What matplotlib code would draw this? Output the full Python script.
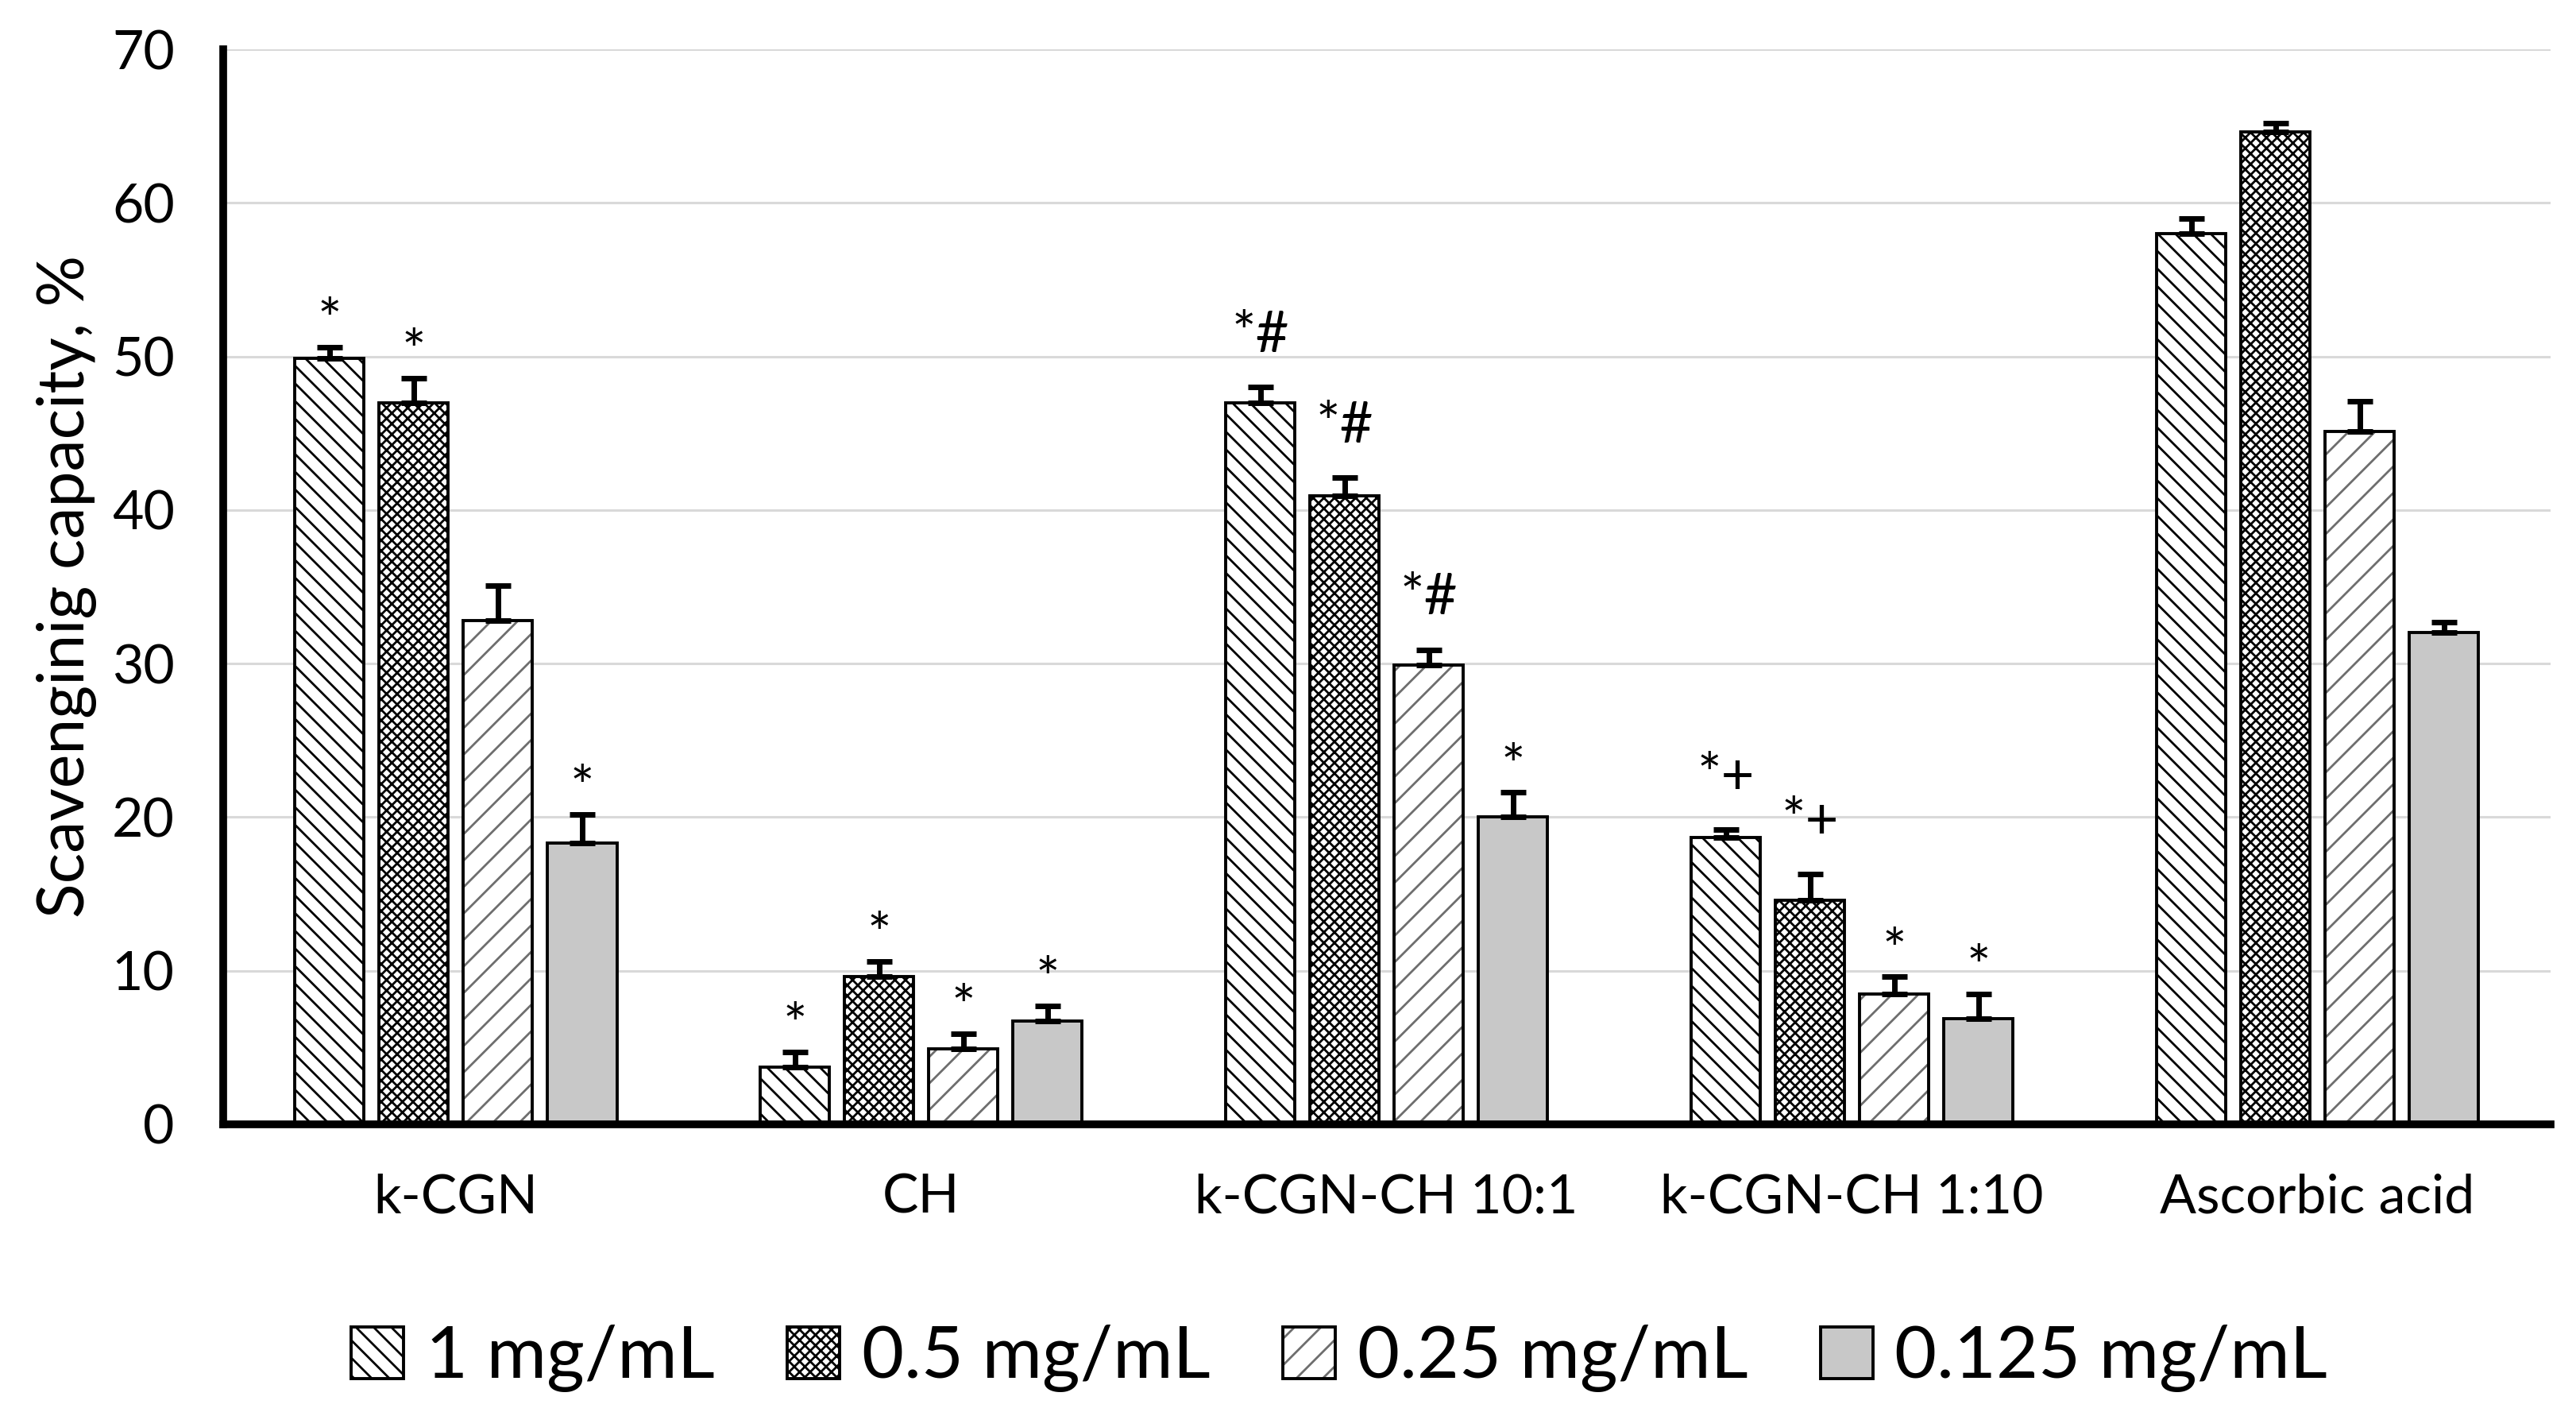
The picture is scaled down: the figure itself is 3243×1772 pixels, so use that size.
import numpy as np
import matplotlib.pyplot as plt

# ==========================
# Datos
# ==========================
groups = ["k-CGN", "CH", "k-CGN-CH 10:1", "k-CGN-CH 1:10", "Ascorbic acid"]
series = ["1 mg/mL", "0.5 mg/mL", "0.25 mg/mL", "0.125 mg/mL"]

c1 = [49.9, 3.7, 47.0, 18.7, 58.0]
c05 = [47.0, 9.6, 40.9, 14.6, 64.6]
c025 = [32.8, 4.9, 29.9, 8.5, 45.1]
c0125 = [18.3, 6.7, 20.0, 6.9, 32.0]

e1 = [0.7, 1.0, 1.0, 0.5, 1.0]
e05 = [1.6, 1.0, 1.2, 1.7, 0.6]
e025 = [2.3, 1.0, 1.0, 1.1, 2.0]
e0125 = [1.9, 1.0, 1.6, 1.6, 0.7]

marks1 = ["*", "*", "*#", "*+", ""]
marks05 = ["*", "*", "*#", "*+", ""]
marks025 = ["", "*", "*#", "*", ""]
marks0125 = ["*", "*", "*", "*", ""]

values = [c1, c05, c025, c0125]
errors = [e1, e05, e025, e0125]
marks = [marks1, marks05, marks025, marks0125]

# ==========================
# Estilo
# ==========================
plt.rcParams["font.family"] = ["Lato", "DejaVu Sans"]
plt.rcParams["hatch.linewidth"] = 1.0

hatches = ["\\\\\\", "xxxxx", "//", ""]
hatch_colors = ["black", "black", "#6E6E6E", "black"]
faces = ["white", "white", "white", "#C8C8C8"]

fig = plt.figure(figsize=(16.215, 8.86), dpi=200)
ax = fig.add_axes([0.0866, 0.2015, 0.9034, 0.7635])

x = np.arange(len(groups))
step = 0.181
width = 0.149

handles = []
for j, name in enumerate(series):
    pos = x + (j - 1.5) * step
    vals = np.array(values[j])
    errs = np.array(errors[j])
    # relleno + trama
    b1 = ax.bar(pos, vals, width, facecolor=faces[j],
                edgecolor=hatch_colors[j], linewidth=0,
                hatch=hatches[j], zorder=3)
    # contorno negro
    b2 = ax.bar(pos, vals, width, facecolor="none", edgecolor="black",
                linewidth=1.4, zorder=3)
    handles.append((b1[0], b2[0]))
    ax.errorbar(pos, vals, yerr=[np.zeros_like(errs), errs], fmt="none",
                ecolor="black", elinewidth=2.5, capsize=5.8, capthick=2.5,
                zorder=4)
    for p, v, e, m in zip(pos, vals, errs, marks[j]):
        if m:
            off = 2.3 if len(m) > 1 else 0.5
            ax.text(p, v + e + off, m, ha="center", va="baseline",
                    fontsize=26, color="black", zorder=5)

# ==========================
# Ejes
# ==========================
ax.set_xlim(-0.5, 4.5)
ax.set_ylim(0, 70)
ax.set_yticks(np.arange(0, 71, 10))
ax.set_xticks(x)
ax.set_xticklabels(groups)
ax.tick_params(axis="both", length=0, labelsize=24.5, pad=22)

ax.grid(True, axis="y", color="#D9D9D9", linewidth=1.1, zorder=0)
ax.set_axisbelow(True)

for s in ["top", "right"]:
    ax.spines[s].set_visible(False)
for s in ["left", "bottom"]:
    ax.spines[s].set_linewidth(3.5)
    ax.spines[s].set_color("black")
    ax.spines[s].set_zorder(6)

fig.text(0.026, 0.5835, "Scavenginig capacity, %", rotation=90,
         ha="center", va="center", fontsize=29)

fig.legend(handles, series, loc="center", bbox_to_anchor=(0.52, 0.035),
           ncol=4, frameon=False, fontsize=33, handlelength=0.72,
           handleheight=0.72, handletextpad=0.3, columnspacing=1.0)

fig.savefig("out.png", dpi=200)
